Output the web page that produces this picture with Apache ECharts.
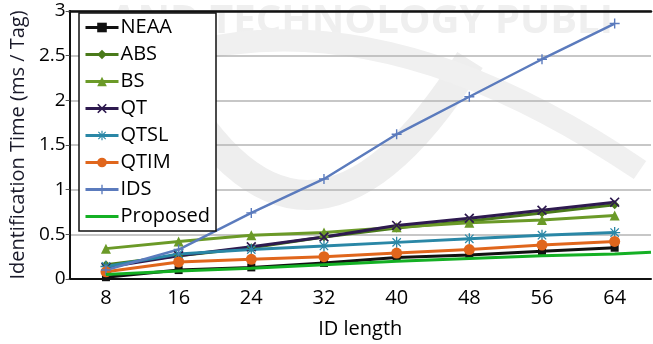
<!DOCTYPE html>
<html><head><meta charset="utf-8">
<script src="https://cdn.jsdelivr.net/npm/echarts@6/dist/echarts.min.js"></script>
<style>html,body{margin:0;padding:0;background:#fff}#c{width:653px;height:344px}</style>
</head><body><div id="c"></div>
<script>
const categories = ['8','16','24','32','40','48','56','64'];
const yTicks = [0,0.5,1,1.5,2,2.5,3];
const NEAA = [0.02,0.10,0.13,0.18,0.24,0.27,0.31,0.35];
const ABS = [0.16,0.26,0.35,0.47,0.57,0.65,0.74,0.83];
const BS = [0.34,0.42,0.49,0.52,0.58,0.63,0.66,0.71];
const QT = [0.13,0.26,0.36,0.47,0.60,0.68,0.77,0.86];
const QTSL = [0.14,0.28,0.33,0.37,0.41,0.45,0.49,0.52];
const QTIM = [0.08,0.19,0.22,0.25,0.29,0.33,0.38,0.42];
const IDS = [0.10,0.33,0.74,1.12,1.62,2.04,2.46,2.86];
const proposedX = [8,16,24,32,40,48,56,64,68];
const Proposed = [0.05,0.09,0.12,0.16,0.20,0.23,0.26,0.28,0.30];

const F = '"Open Sans", sans-serif';
const xSym = 'path://M0,1.2L1.2,0L5,3.8L8.8,0L10,1.2L6.2,5L10,8.8L8.8,10L5,6.2L1.2,10L0,8.8L3.8,5Z';
const plusSym = 'path://M4.3,0H5.7V4.3H10V5.7H5.7V10H4.3V5.7H0V4.3H4.3Z';
const starSym = 'path://M4.4,0H5.6V10H4.4Z M0,4.4H10V5.6H0Z M0.8,1.6L1.6,0.8L9.2,8.4L8.4,9.2Z M8.4,0.8L9.2,1.6L1.6,9.2L0.8,8.4Z';

function mk(name, data, color, symbol, size, width) {
  return {name, type:'line', data, symbol, symbolSize:size, showSymbol:symbol!=='none',
    lineStyle:{color, width}, itemStyle:{color}, z:3};
}
const series = [
  mk('NEAA', NEAA, '#111111', 'rect', 8, 3),
  mk('ABS', ABS, '#4a7a1a', 'diamond', 9, 3),
  mk('BS', BS, '#6b9a28', 'triangle', 10, 3),
  mk('QT', QT, '#2e1a4f', xSym, 10, 3),
  mk('QTSL', QTSL, '#2a87a6', starSym, 11, 3),
  mk('QTIM', QTIM, '#e0661c', 'circle', 11, 3),
  mk('IDS', IDS, '#5b7bbd', plusSym, 10, 2.5),
  {name:'Proposed', type:'line', xAxisIndex:1, symbol:'none', showSymbol:false,
    data: proposedX.map((x,i)=>[x, Proposed[i]]),
    lineStyle:{color:'#14b024', width:3}, itemStyle:{color:'#14b024'}, z:4}
];

const chart = echarts.init(document.getElementById('c'));
chart.setOption({
  animation:false,
  backgroundColor:'#ffffff',
  graphic:[
    {type:'text', left:110, top:2, z:-10, silent:true,
      style:{text:'AND TECHNOLOGY PUBLI', font:'bold 40px "Open Sans", sans-serif', fill:'#efefef'}},
    {type:'bezierCurve', z:-10, silent:true, shape:{x1:160,y1:60,x2:470,y2:60,cpx1:300,cpy1:330},
      style:{fill:null, stroke:'#eeeeee', lineWidth:30}},
    {type:'bezierCurve', z:-10, silent:true, shape:{x1:90,y1:90,x2:640,y2:170,cpx1:330,cpy1:-40},
      style:{fill:null, stroke:'#f0f0f0', lineWidth:22}}
  ],
  grid:{left:69, right:2, top:11, bottom:56, containLabel:false},
  legend:{
    orient:'vertical', left:79, top:13, padding:[1,6,1,5], itemGap:0,
    backgroundColor:'#ffffff', borderColor:'#111', borderWidth:1.5, borderRadius:0,
    itemWidth:33, itemHeight:12,
    lineStyle:{width:3},
    textStyle:{fontFamily:F, fontSize:20, color:'#000', lineHeight:27, padding:[0,0,0,-3]},
    data:['NEAA','ABS','BS','QT','QTSL','QTIM','IDS',
      {name:'Proposed', itemStyle:{opacity:0}}]
  },
  xAxis:[
    {type:'category', data:categories, boundaryGap:true,
      name:'ID length', nameLocation:'middle', nameGap:40,
      nameTextStyle:{fontFamily:F, fontSize:20, color:'#000'},
      axisLine:{lineStyle:{color:'#111', width:2}},
      axisTick:{length:5, lineStyle:{color:'#333'}},
      axisLabel:{fontFamily:F, fontSize:20, color:'#000', margin:9},
      splitLine:{show:false}},
    {type:'value', min:4, max:68, position:'top',
      axisLine:{show:true, onZero:false, lineStyle:{color:'#111', width:2.5}},
      axisTick:{show:false}, axisLabel:{show:false}, splitLine:{show:false}}
  ],
  yAxis:{type:'value', min:0, max:3, interval:0.5,
    name:'Identification Time (ms / Tag)', nameLocation:'middle', nameGap:36,
    nameTextStyle:{fontFamily:F, fontSize:20, color:'#1a1a2a'},
    axisLine:{show:true, lineStyle:{color:'#111', width:2}},
    axisTick:{show:true, length:4, lineStyle:{color:'#555'}},
    axisLabel:{fontFamily:F, fontSize:19, color:'#000', margin:4,
      formatter:v=>yTicks.includes(v)?String(v):''},
    splitLine:{lineStyle:{color:'#b5b5b5', width:1.5}}},
  series
});
</script></body></html>
